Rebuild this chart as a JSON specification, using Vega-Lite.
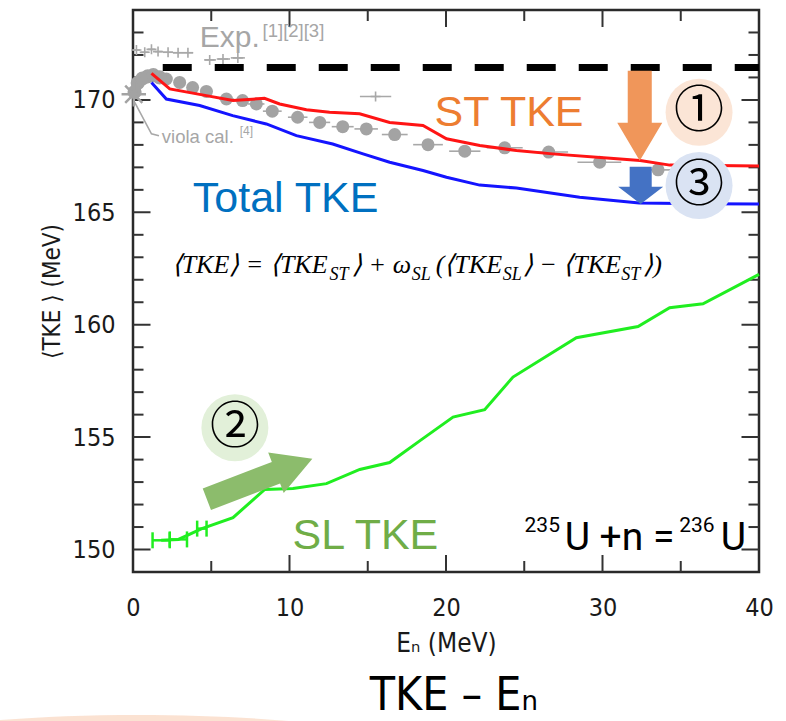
{
  "$schema": "https://vega.github.io/schema/vega-lite/v6.json",
  "autosize": {"type": "none"},
  "width": 626,
  "height": 562,
  "padding": {"left": 133, "top": 10, "right": 27, "bottom": 149},
  "background": "#ffffff",
  "config": {
    "view": {"stroke": "#2a2a2a", "strokeWidth": 2.5},
    "font": "Liberation Sans",
    "axis": {
      "grid": false,
      "labelColor": "#1a1a1a",
      "labelFont": "Liberation Sans Narrow, DejaVu Sans Condensed, Liberation Sans",
      "labelFontSize": 25,
      "labelFlush": false,
      "labelOverlap": false,
      "titleFont": "Liberation Sans Narrow, DejaVu Sans Condensed, Liberation Sans",
      "titleFontWeight": "normal",
      "titleColor": "#1a1a1a"
    }
  },
  "datasets": {
    "calc": [
      {"series": "ST", "E": 1.18, "TKE": 171.18},
      {"series": "ST", "E": 2.35, "TKE": 170.49},
      {"series": "ST", "E": 4.69, "TKE": 170.19},
      {"series": "ST", "E": 6.39, "TKE": 169.97},
      {"series": "ST", "E": 8.4, "TKE": 170.07},
      {"series": "ST", "E": 9.37, "TKE": 169.82},
      {"series": "ST", "E": 11.08, "TKE": 169.56},
      {"series": "ST", "E": 12.56, "TKE": 169.45},
      {"series": "ST", "E": 14.48, "TKE": 169.38},
      {"series": "ST", "E": 16.4, "TKE": 169.0},
      {"series": "ST", "E": 18.53, "TKE": 168.86},
      {"series": "ST", "E": 20.03, "TKE": 168.27},
      {"series": "ST", "E": 22.16, "TKE": 167.97},
      {"series": "ST", "E": 24.5, "TKE": 167.75},
      {"series": "ST", "E": 26.8, "TKE": 167.6},
      {"series": "ST", "E": 30.5, "TKE": 167.4},
      {"series": "ST", "E": 32.4, "TKE": 167.3},
      {"series": "ST", "E": 34.3, "TKE": 167.1},
      {"series": "ST", "E": 40.0, "TKE": 167.06},
      {"series": "Total", "E": 1.18, "TKE": 170.78},
      {"series": "Total", "E": 2.13, "TKE": 170.04},
      {"series": "Total", "E": 4.26, "TKE": 169.75},
      {"series": "Total", "E": 6.37, "TKE": 169.3},
      {"series": "Total", "E": 8.52, "TKE": 168.93},
      {"series": "Total", "E": 10.44, "TKE": 168.41},
      {"series": "Total", "E": 12.76, "TKE": 168.04},
      {"series": "Total", "E": 14.7, "TKE": 167.6},
      {"series": "Total", "E": 16.4, "TKE": 167.23},
      {"series": "Total", "E": 18.53, "TKE": 166.86},
      {"series": "Total", "E": 20.03, "TKE": 166.56},
      {"series": "Total", "E": 22.15, "TKE": 166.21},
      {"series": "Total", "E": 24.5, "TKE": 166.08},
      {"series": "Total", "E": 28.54, "TKE": 165.67},
      {"series": "Total", "E": 32.35, "TKE": 165.42},
      {"series": "Total", "E": 36.4, "TKE": 165.38},
      {"series": "Total", "E": 40.0, "TKE": 165.37},
      {"series": "SL", "E": 1.8, "TKE": 150.41},
      {"series": "SL", "E": 2.9, "TKE": 150.45},
      {"series": "SL", "E": 4.4, "TKE": 150.93},
      {"series": "SL", "E": 6.39, "TKE": 151.42},
      {"series": "SL", "E": 8.42, "TKE": 152.67},
      {"series": "SL", "E": 10.22, "TKE": 152.71},
      {"series": "SL", "E": 12.36, "TKE": 152.93},
      {"series": "SL", "E": 14.49, "TKE": 153.56},
      {"series": "SL", "E": 16.4, "TKE": 153.87},
      {"series": "SL", "E": 18.43, "TKE": 154.89},
      {"series": "SL", "E": 20.45, "TKE": 155.89},
      {"series": "SL", "E": 22.47, "TKE": 156.22},
      {"series": "SL", "E": 24.28, "TKE": 157.67},
      {"series": "SL", "E": 28.33, "TKE": 159.42},
      {"series": "SL", "E": 32.27, "TKE": 159.92},
      {"series": "SL", "E": 34.29, "TKE": 160.76},
      {"series": "SL", "E": 36.42, "TKE": 160.93},
      {"series": "SL", "E": 40.0, "TKE": 162.24}
    ],
    "exp": [
      {"E": 2.13, "TKE": 170.93, "lo": 1.8, "hi": 2.45},
      {"E": 2.98, "TKE": 170.78, "lo": 2.65, "hi": 3.3},
      {"E": 3.81, "TKE": 170.55, "lo": 3.45, "hi": 4.15},
      {"E": 4.69, "TKE": 170.38, "lo": 4.3, "hi": 5.1},
      {"E": 5.97, "TKE": 170.04, "lo": 5.5, "hi": 6.45},
      {"E": 7.0, "TKE": 169.97, "lo": 6.5, "hi": 7.5},
      {"E": 7.88, "TKE": 169.82, "lo": 7.35, "hi": 8.4},
      {"E": 8.9, "TKE": 169.5, "lo": 8.3, "hi": 9.5},
      {"E": 10.52, "TKE": 169.23, "lo": 9.9, "hi": 11.15},
      {"E": 11.93, "TKE": 169.0, "lo": 11.25, "hi": 12.6},
      {"E": 13.4, "TKE": 168.81, "lo": 12.7, "hi": 14.1},
      {"E": 14.91, "TKE": 168.71, "lo": 14.15, "hi": 15.65},
      {"E": 16.72, "TKE": 168.46, "lo": 15.9, "hi": 17.55},
      {"E": 18.85, "TKE": 168.01, "lo": 17.9, "hi": 19.8},
      {"E": 21.2, "TKE": 167.72, "lo": 20.2, "hi": 22.2},
      {"E": 23.75, "TKE": 167.87, "lo": 22.6, "hi": 24.9},
      {"E": 26.56, "TKE": 167.68, "lo": 25.3, "hi": 27.8},
      {"E": 29.82, "TKE": 167.23, "lo": 28.4, "hi": 31.2},
      {"E": 33.55, "TKE": 166.89, "lo": 32.0, "hi": 35.1}
    ],
    "viola": [
      {"E": 0.1, "TKE": 170.35},
      {"E": 0.3, "TKE": 170.75},
      {"E": 0.6, "TKE": 170.95},
      {"E": 0.95, "TKE": 171.05},
      {"E": 1.3, "TKE": 171.1},
      {"E": 1.7, "TKE": 171.0}
    ],
    "plus": [
      {"E": 0.22, "TKE": 172.22, "lo": 0.0, "hi": 0.45},
      {"E": 0.75, "TKE": 172.12, "lo": 0.5, "hi": 1.0},
      {"E": 1.18, "TKE": 172.25, "lo": 0.95, "hi": 1.4},
      {"E": 1.6, "TKE": 172.15, "lo": 1.4, "hi": 1.85},
      {"E": 2.24, "TKE": 172.12, "lo": 1.9, "hi": 2.55},
      {"E": 2.88, "TKE": 172.1, "lo": 2.55, "hi": 3.2},
      {"E": 3.51, "TKE": 172.1, "lo": 3.2, "hi": 3.85},
      {"E": 4.9, "TKE": 171.78, "lo": 4.55, "hi": 5.3},
      {"E": 5.75, "TKE": 171.82, "lo": 5.35, "hi": 6.2},
      {"E": 6.7, "TKE": 171.87, "lo": 6.25, "hi": 7.15},
      {"E": 15.5, "TKE": 170.15, "lo": 14.5, "hi": 16.5}
    ],
    "sl_err": [
      {"E": 1.8, "TKE": 150.41, "lo": 1.25, "hi": 2.35},
      {"E": 2.9, "TKE": 150.45, "lo": 2.35, "hi": 3.45},
      {"E": 4.4, "TKE": 150.93, "lo": 4.1, "hi": 4.7}
    ],
    "ytick_major": [
      {"E": 0, "TKE": 150}, {"E": 0, "TKE": 155}, {"E": 0, "TKE": 160}, {"E": 0, "TKE": 165}, {"E": 0, "TKE": 170},
      {"E": 40, "TKE": 150}, {"E": 40, "TKE": 155}, {"E": 40, "TKE": 160}, {"E": 40, "TKE": 165}, {"E": 40, "TKE": 170}
    ],
    "ytick_minor": [
      {"E": 0, "TKE": 151}, {"E": 0, "TKE": 152}, {"E": 0, "TKE": 153}, {"E": 0, "TKE": 154},
      {"E": 0, "TKE": 156}, {"E": 0, "TKE": 157}, {"E": 0, "TKE": 158}, {"E": 0, "TKE": 159},
      {"E": 0, "TKE": 161}, {"E": 0, "TKE": 162}, {"E": 0, "TKE": 163}, {"E": 0, "TKE": 164},
      {"E": 0, "TKE": 166}, {"E": 0, "TKE": 167}, {"E": 0, "TKE": 168}, {"E": 0, "TKE": 169},
      {"E": 0, "TKE": 171}, {"E": 0, "TKE": 172}, {"E": 0, "TKE": 173},
      {"E": 40, "TKE": 151}, {"E": 40, "TKE": 152}, {"E": 40, "TKE": 153}, {"E": 40, "TKE": 154},
      {"E": 40, "TKE": 156}, {"E": 40, "TKE": 157}, {"E": 40, "TKE": 158}, {"E": 40, "TKE": 159},
      {"E": 40, "TKE": 161}, {"E": 40, "TKE": 162}, {"E": 40, "TKE": 163}, {"E": 40, "TKE": 164},
      {"E": 40, "TKE": 166}, {"E": 40, "TKE": 167}, {"E": 40, "TKE": 168}, {"E": 40, "TKE": 169},
      {"E": 40, "TKE": 171}, {"E": 40, "TKE": 172}, {"E": 40, "TKE": 173}
    ],
    "xtick_major": [
      {"E": 10, "TKE": 149}, {"E": 20, "TKE": 149}, {"E": 30, "TKE": 149},
      {"E": 10, "TKE": 174}, {"E": 20, "TKE": 174}, {"E": 30, "TKE": 174}
    ],
    "xtick_minor": [
      {"E": 5, "TKE": 149}, {"E": 15, "TKE": 149}, {"E": 25, "TKE": 149}, {"E": 35, "TKE": 149},
      {"E": 5, "TKE": 174}, {"E": 15, "TKE": 174}, {"E": 25, "TKE": 174}, {"E": 35, "TKE": 174}
    ]
  },
  "layer": [
    {
      "data": {"values": [{"E": 0.3, "TKE": 140.64}]},
      "mark": {"type": "point", "shape": "M-1,0A1,0.15 0 1,1 1,0A1,0.15 0 1,1 -1,0Z", "size": 360000, "filled": true, "color": "#F8CBAD", "opacity": 0.55, "strokeWidth": 0},
      "encoding": {
        "x": {"field": "E", "type": "quantitative", "scale": {"domain": [0, 40], "nice": false, "zero": false}, "axis": null},
        "y": {"field": "TKE", "type": "quantitative", "scale": {"domain": [149, 174], "nice": false, "zero": false}, "axis": null}
      }
    },
    {
      "data": {"name": "ytick_major"},
      "mark": {"type": "tick", "orient": "horizontal", "size": 35, "thickness": 2, "color": "#333333", "opacity": 1, "clip": true},
      "encoding": {
        "x": {"field": "E", "type": "quantitative", "scale": {"domain": [0, 40], "nice": false, "zero": false}, "axis": null},
        "y": {"field": "TKE", "type": "quantitative", "scale": {"domain": [149, 174], "nice": false, "zero": false}, "axis": null}
      }
    },
    {
      "data": {"name": "ytick_minor"},
      "mark": {"type": "tick", "orient": "horizontal", "size": 21, "thickness": 2, "color": "#333333", "opacity": 1, "clip": true},
      "encoding": {
        "x": {"field": "E", "type": "quantitative", "scale": {"domain": [0, 40], "nice": false, "zero": false}, "axis": null},
        "y": {"field": "TKE", "type": "quantitative", "scale": {"domain": [149, 174], "nice": false, "zero": false}, "axis": null}
      }
    },
    {
      "data": {"name": "xtick_major"},
      "mark": {"type": "tick", "orient": "vertical", "size": 34, "thickness": 2, "color": "#333333", "opacity": 1, "clip": true},
      "encoding": {
        "x": {"field": "E", "type": "quantitative", "scale": {"domain": [0, 40], "nice": false, "zero": false}, "axis": null},
        "y": {"field": "TKE", "type": "quantitative", "scale": {"domain": [149, 174], "nice": false, "zero": false}, "axis": null}
      }
    },
    {
      "data": {"name": "xtick_minor"},
      "mark": {"type": "tick", "orient": "vertical", "size": 22, "thickness": 2, "color": "#333333", "opacity": 1, "clip": true},
      "encoding": {
        "x": {"field": "E", "type": "quantitative", "scale": {"domain": [0, 40], "nice": false, "zero": false}, "axis": null},
        "y": {"field": "TKE", "type": "quantitative", "scale": {"domain": [149, 174], "nice": false, "zero": false}, "axis": null}
      }
    },
    {
      "data": {"name": "exp"},
      "mark": {"type": "rule", "color": "#A8A8A8", "strokeWidth": 1.6},
      "encoding": {
        "x": {"field": "lo", "type": "quantitative", "scale": {"domain": [0, 40], "nice": false, "zero": false}, "axis": null},
        "x2": {"field": "hi"},
        "y": {"field": "TKE", "type": "quantitative", "scale": {"domain": [149, 174], "nice": false, "zero": false}, "axis": null}
      }
    },
    {
      "data": {"name": "plus"},
      "mark": {"type": "rule", "color": "#A8A8A8", "strokeWidth": 1.6},
      "encoding": {
        "x": {"field": "lo", "type": "quantitative", "scale": {"domain": [0, 40], "nice": false, "zero": false}, "axis": null},
        "x2": {"field": "hi"},
        "y": {"field": "TKE", "type": "quantitative", "scale": {"domain": [149, 174], "nice": false, "zero": false}, "axis": null}
      }
    },
    {
      "data": {"name": "plus"},
      "mark": {"type": "point", "shape": "M-1,0L1,0M0,-1L0,1", "size": 100, "filled": false, "stroke": "#A8A8A8", "strokeWidth": 1.6, "opacity": 1},
      "encoding": {
        "x": {"field": "E", "type": "quantitative", "scale": {"domain": [0, 40], "nice": false, "zero": false}, "axis": null},
        "y": {"field": "TKE", "type": "quantitative", "scale": {"domain": [149, 174], "nice": false, "zero": false}, "axis": null}
      }
    },
    {
      "data": {"name": "exp"},
      "mark": {"type": "point", "shape": "circle", "size": 169, "filled": true, "color": "#A3A3A3", "opacity": 1},
      "encoding": {
        "x": {"field": "E", "type": "quantitative", "scale": {"domain": [0, 40], "nice": false, "zero": false}, "axis": null},
        "y": {"field": "TKE", "type": "quantitative", "scale": {"domain": [149, 174], "nice": false, "zero": false}, "axis": null}
      }
    },
    {
      "data": {"name": "viola"},
      "mark": {"type": "point", "shape": "circle", "size": 200, "filled": true, "color": "#A3A3A3", "opacity": 1},
      "encoding": {
        "x": {"field": "E", "type": "quantitative", "scale": {"domain": [0, 40], "nice": false, "zero": false}, "axis": null},
        "y": {"field": "TKE", "type": "quantitative", "scale": {"domain": [149, 174], "nice": false, "zero": false}, "axis": null}
      }
    },
    {
      "data": {"values": [{"E": 0.05, "TKE": 170.25}]},
      "mark": {"type": "point", "shape": "M-1,0L1,0M0,-1L0,1M-0.7,-0.7L0.7,0.7M-0.7,0.7L0.7,-0.7", "size": 600, "filled": false, "stroke": "#A3A3A3", "strokeWidth": 2.5, "opacity": 1},
      "encoding": {
        "x": {"field": "E", "type": "quantitative", "scale": {"domain": [0, 40], "nice": false, "zero": false}, "axis": null},
        "y": {"field": "TKE", "type": "quantitative", "scale": {"domain": [149, 174], "nice": false, "zero": false}, "axis": null}
      }
    },
    {
      "data": {"values": [
        {"E": 0.11, "TKE": 169.89, "o": 1},
        {"E": 1.18, "TKE": 168.49, "o": 2},
        {"E": 1.66, "TKE": 168.41, "o": 3}
      ]},
      "mark": {"type": "line", "color": "#A8A8A8", "strokeWidth": 1.6},
      "encoding": {
        "x": {"field": "E", "type": "quantitative", "scale": {"domain": [0, 40], "nice": false, "zero": false}, "axis": null},
        "y": {"field": "TKE", "type": "quantitative", "scale": {"domain": [149, 174], "nice": false, "zero": false}, "axis": null},
        "order": {"field": "o"}
      }
    },
    {
      "data": {"values": [{"E": 1.9, "TKE": 171.44}, {"E": 40, "TKE": 171.44}]},
      "mark": {"type": "line", "color": "#000000", "strokeWidth": 7, "strokeDash": [29, 23], "strokeCap": "butt"},
      "encoding": {
        "x": {"field": "E", "type": "quantitative", "scale": {"domain": [0, 40], "nice": false, "zero": false}, "axis": null},
        "y": {"field": "TKE", "type": "quantitative", "scale": {"domain": [149, 174], "nice": false, "zero": false}, "axis": null}
      }
    },
    {
      "data": {"name": "calc"},
      "mark": {"type": "line", "strokeWidth": 3},
      "encoding": {
        "x": {
          "field": "E", "type": "quantitative",
          "scale": {"domain": [0, 40], "nice": false, "zero": false},
          "axis": {
            "orient": "bottom", "title": "Eₙ (MeV)", "titleFontSize": 26, "titlePadding": 10,
            "domain": false, "ticks": false, "tickSize": 0,
            "values": [0, 10, 20, 30, 40], "labelPadding": 23
          }
        },
        "y": {
          "field": "TKE", "type": "quantitative",
          "scale": {"domain": [149, 174], "nice": false, "zero": false},
          "axis": {
            "orient": "left", "title": "⟨TKE ⟩ (MeV)", "titleFontSize": 24, "titlePadding": 8,
            "domain": false, "ticks": false, "tickSize": 0,
            "values": [150, 155, 160, 165, 170], "labelPadding": 18
          }
        },
        "color": {
          "field": "series", "type": "nominal",
          "scale": {"domain": ["ST", "Total", "SL"], "range": ["#FF1414", "#1414FF", "#20EE20"]},
          "legend": null
        }
      }
    },
    {
      "data": {"name": "sl_err"},
      "mark": {"type": "rule", "color": "#20EE20", "strokeWidth": 2.5},
      "encoding": {
        "x": {"field": "lo", "type": "quantitative", "scale": {"domain": [0, 40], "nice": false, "zero": false}, "axis": null},
        "x2": {"field": "hi"},
        "y": {"field": "TKE", "type": "quantitative", "scale": {"domain": [149, 174], "nice": false, "zero": false}, "axis": null}
      }
    },
    {
      "data": {"name": "sl_err"},
      "mark": {"type": "tick", "orient": "vertical", "size": 16, "thickness": 2.5, "color": "#20EE20", "opacity": 1},
      "encoding": {
        "x": {"field": "lo", "type": "quantitative", "scale": {"domain": [0, 40], "nice": false, "zero": false}, "axis": null},
        "y": {"field": "TKE", "type": "quantitative", "scale": {"domain": [149, 174], "nice": false, "zero": false}, "axis": null}
      }
    },
    {
      "data": {"name": "sl_err"},
      "mark": {"type": "tick", "orient": "vertical", "size": 16, "thickness": 2.5, "color": "#20EE20", "opacity": 1},
      "encoding": {
        "x": {"field": "hi", "type": "quantitative", "scale": {"domain": [0, 40], "nice": false, "zero": false}, "axis": null},
        "y": {"field": "TKE", "type": "quantitative", "scale": {"domain": [149, 174], "nice": false, "zero": false}, "axis": null}
      }
    },
    {
      "data": {"values": [{"E": 32.38, "TKE": 169.3}]},
      "mark": {"type": "point", "shape": "M-0.267,-1L0.267,-1L0.267,0.156L0.5,0.156L0,1L-0.5,0.156L-0.267,0.156Z", "size": 8100, "filled": true, "color": "#F0965A", "opacity": 1, "strokeWidth": 0},
      "encoding": {
        "x": {"field": "E", "type": "quantitative", "scale": {"domain": [0, 40], "nice": false, "zero": false}, "axis": null},
        "y": {"field": "TKE", "type": "quantitative", "scale": {"domain": [149, 174], "nice": false, "zero": false}, "axis": null}
      }
    },
    {
      "data": {"values": [{"E": 32.44, "TKE": 166.2}]},
      "mark": {"type": "point", "shape": "M-0.49,-0.83L0.49,-0.83L0.49,0.06L1,0.06L0,0.83L-1,0.06L-0.49,0.06Z", "size": 2025, "filled": true, "color": "#4472C4", "opacity": 1, "strokeWidth": 0},
      "encoding": {
        "x": {"field": "E", "type": "quantitative", "scale": {"domain": [0, 40], "nice": false, "zero": false}, "axis": null},
        "y": {"field": "TKE", "type": "quantitative", "scale": {"domain": [149, 174], "nice": false, "zero": false}, "axis": null}
      }
    },
    {
      "data": {"values": [{"E": 8.09, "TKE": 153.14}]},
      "mark": {"type": "point", "shape": "M-1,-0.204L0.31,-0.204L0.31,-0.384L1,0L0.31,0.384L0.31,0.204L-1,0.204Z", "size": 12769, "angle": -21, "filled": true, "color": "#8CBC6C", "opacity": 1, "strokeWidth": 0},
      "encoding": {
        "x": {"field": "E", "type": "quantitative", "scale": {"domain": [0, 40], "nice": false, "zero": false}, "axis": null},
        "y": {"field": "TKE", "type": "quantitative", "scale": {"domain": [149, 174], "nice": false, "zero": false}, "axis": null}
      }
    },
    {
      "data": {"values": [
        {"n": "①", "E": 36.17, "TKE": 169.45},
        {"n": "②", "E": 6.51, "TKE": 155.42},
        {"n": "③", "E": 36.17, "TKE": 166.19}
      ]},
      "layer": [
        {
          "mark": {"type": "point", "shape": "circle", "size": 4489, "filled": true, "opacity": 1, "strokeWidth": 0},
          "encoding": {
            "x": {"field": "E", "type": "quantitative", "scale": {"domain": [0, 40], "nice": false, "zero": false}, "axis": null},
            "y": {"field": "TKE", "type": "quantitative", "scale": {"domain": [149, 174], "nice": false, "zero": false}, "axis": null},
            "fill": {"field": "n", "type": "nominal", "scale": {"domain": ["①", "②", "③"], "range": ["#FBE5D6", "#E2F0D9", "#DAE3F3"]}, "legend": null}
          }
        },
        {
          "mark": {"type": "text", "font": "Noto Sans CJK JP", "fontSize": 50, "align": "center", "baseline": "middle", "color": "#000000"},
          "encoding": {
            "x": {"field": "E", "type": "quantitative", "scale": {"domain": [0, 40], "nice": false, "zero": false}, "axis": null},
            "y": {"field": "TKE", "type": "quantitative", "scale": {"domain": [149, 174], "nice": false, "zero": false}, "axis": null},
            "text": {"field": "n"}
          }
        }
      ]
    },
    {
      "data": {"values": [{"t": "Exp.", "E": 4.27, "TKE": 172.34}]},
      "mark": {"type": "text", "align": "left", "baseline": "alphabetic", "fontSize": 30, "color": "#A6A6A6"},
      "encoding": {
        "x": {"field": "E", "type": "quantitative", "scale": {"domain": [0, 40], "nice": false, "zero": false}, "axis": null},
        "y": {"field": "TKE", "type": "quantitative", "scale": {"domain": [149, 174], "nice": false, "zero": false}, "axis": null},
        "text": {"field": "t"}
      }
    },
    {
      "data": {"values": [{"t": "[1][2][3]", "E": 8.28, "TKE": 172.78}, {"t": "viola cal.", "E": 1.84, "TKE": 168.1}]},
      "mark": {"type": "text", "align": "left", "baseline": "alphabetic", "fontSize": 18.5, "color": "#A6A6A6"},
      "encoding": {
        "x": {"field": "E", "type": "quantitative", "scale": {"domain": [0, 40], "nice": false, "zero": false}, "axis": null},
        "y": {"field": "TKE", "type": "quantitative", "scale": {"domain": [149, 174], "nice": false, "zero": false}, "axis": null},
        "text": {"field": "t"}
      }
    },
    {
      "data": {"values": [{"t": "[4]", "E": 6.82, "TKE": 168.46}]},
      "mark": {"type": "text", "align": "left", "baseline": "alphabetic", "fontSize": 12, "color": "#A6A6A6"},
      "encoding": {
        "x": {"field": "E", "type": "quantitative", "scale": {"domain": [0, 40], "nice": false, "zero": false}, "axis": null},
        "y": {"field": "TKE", "type": "quantitative", "scale": {"domain": [149, 174], "nice": false, "zero": false}, "axis": null},
        "text": {"field": "t"}
      }
    },
    {
      "data": {"values": [
        {"t": "ST TKE", "E": 19.27, "TKE": 168.85},
        {"t": "Total TKE", "E": 3.82, "TKE": 165.0},
        {"t": "SL TKE", "E": 10.19, "TKE": 150.04}
      ]},
      "mark": {"type": "text", "align": "left", "baseline": "alphabetic", "fontSize": 43},
      "encoding": {
        "x": {"field": "E", "type": "quantitative", "scale": {"domain": [0, 40], "nice": false, "zero": false}, "axis": null},
        "y": {"field": "TKE", "type": "quantitative", "scale": {"domain": [149, 174], "nice": false, "zero": false}, "axis": null},
        "text": {"field": "t"},
        "fill": {"field": "t", "type": "nominal", "scale": {"domain": ["ST TKE", "Total TKE", "SL TKE"], "range": ["#ED7D31", "#0070C0", "#70AD47"]}, "legend": null}
      }
    },
    {
      "data": {"values": [
        {"t": "⟨TKE⟩ = ⟨TKE", "E": 2.47, "TKE": 162.32},
        {"t": "⟩ + ω", "E": 14.0, "TKE": 162.32},
        {"t": "(⟨TKE", "E": 19.34, "TKE": 162.32},
        {"t": "⟩ − ⟨TKE", "E": 24.9, "TKE": 162.32},
        {"t": "⟩)", "E": 32.6, "TKE": 162.32}
      ]},
      "mark": {"type": "text", "align": "left", "baseline": "alphabetic", "font": "Liberation Serif", "fontStyle": "italic", "fontSize": 26, "color": "#000000"},
      "encoding": {
        "x": {"field": "E", "type": "quantitative", "scale": {"domain": [0, 40], "nice": false, "zero": false}, "axis": null},
        "y": {"field": "TKE", "type": "quantitative", "scale": {"domain": [149, 174], "nice": false, "zero": false}, "axis": null},
        "text": {"field": "t"}
      }
    },
    {
      "data": {"values": [
        {"t": "ST", "E": 12.56, "TKE": 162.01},
        {"t": "SL", "E": 17.81, "TKE": 162.01},
        {"t": "SL", "E": 23.62, "TKE": 162.01},
        {"t": "ST", "E": 31.2, "TKE": 162.01}
      ]},
      "mark": {"type": "text", "align": "left", "baseline": "alphabetic", "font": "Liberation Serif", "fontStyle": "italic", "fontSize": 18, "color": "#000000"},
      "encoding": {
        "x": {"field": "E", "type": "quantitative", "scale": {"domain": [0, 40], "nice": false, "zero": false}, "axis": null},
        "y": {"field": "TKE", "type": "quantitative", "scale": {"domain": [149, 174], "nice": false, "zero": false}, "axis": null},
        "text": {"field": "t"}
      }
    },
    {
      "data": {"values": [{"t": "235", "E": 25.02, "TKE": 150.78}, {"t": "236", "E": 34.9, "TKE": 150.78}]},
      "mark": {"type": "text", "align": "left", "baseline": "alphabetic", "font": "Roboto", "fontSize": 21, "color": "#000000"},
      "encoding": {
        "x": {"field": "E", "type": "quantitative", "scale": {"domain": [0, 40], "nice": false, "zero": false}, "axis": null},
        "y": {"field": "TKE", "type": "quantitative", "scale": {"domain": [149, 174], "nice": false, "zero": false}, "axis": null},
        "text": {"field": "t"}
      }
    },
    {
      "data": {"values": [{"t": "U +n =", "E": 27.58, "TKE": 149.97}, {"t": "U", "E": 37.55, "TKE": 149.97}]},
      "mark": {"type": "text", "align": "left", "baseline": "alphabetic", "font": "Roboto", "fontSize": 39, "color": "#000000"},
      "encoding": {
        "x": {"field": "E", "type": "quantitative", "scale": {"domain": [0, 40], "nice": false, "zero": false}, "axis": null},
        "y": {"field": "TKE", "type": "quantitative", "scale": {"domain": [149, 174], "nice": false, "zero": false}, "axis": null},
        "text": {"field": "t"}
      }
    },
    {
      "data": {"values": [{"t": "TKE – Eₙ", "E": 20.5, "TKE": 142.86}]},
      "mark": {"type": "text", "align": "center", "baseline": "alphabetic", "font": "DejaVu Sans Condensed, Liberation Sans Narrow", "fontSize": 46, "color": "#000000"},
      "encoding": {
        "x": {"field": "E", "type": "quantitative", "scale": {"domain": [0, 40], "nice": false, "zero": false}, "axis": null},
        "y": {"field": "TKE", "type": "quantitative", "scale": {"domain": [149, 174], "nice": false, "zero": false}, "axis": null},
        "text": {"field": "t"}
      }
    }
  ],
  "resolve": {"axis": {"x": "independent", "y": "independent"}, "scale": {"color": "independent", "fill": "independent"}}
}
